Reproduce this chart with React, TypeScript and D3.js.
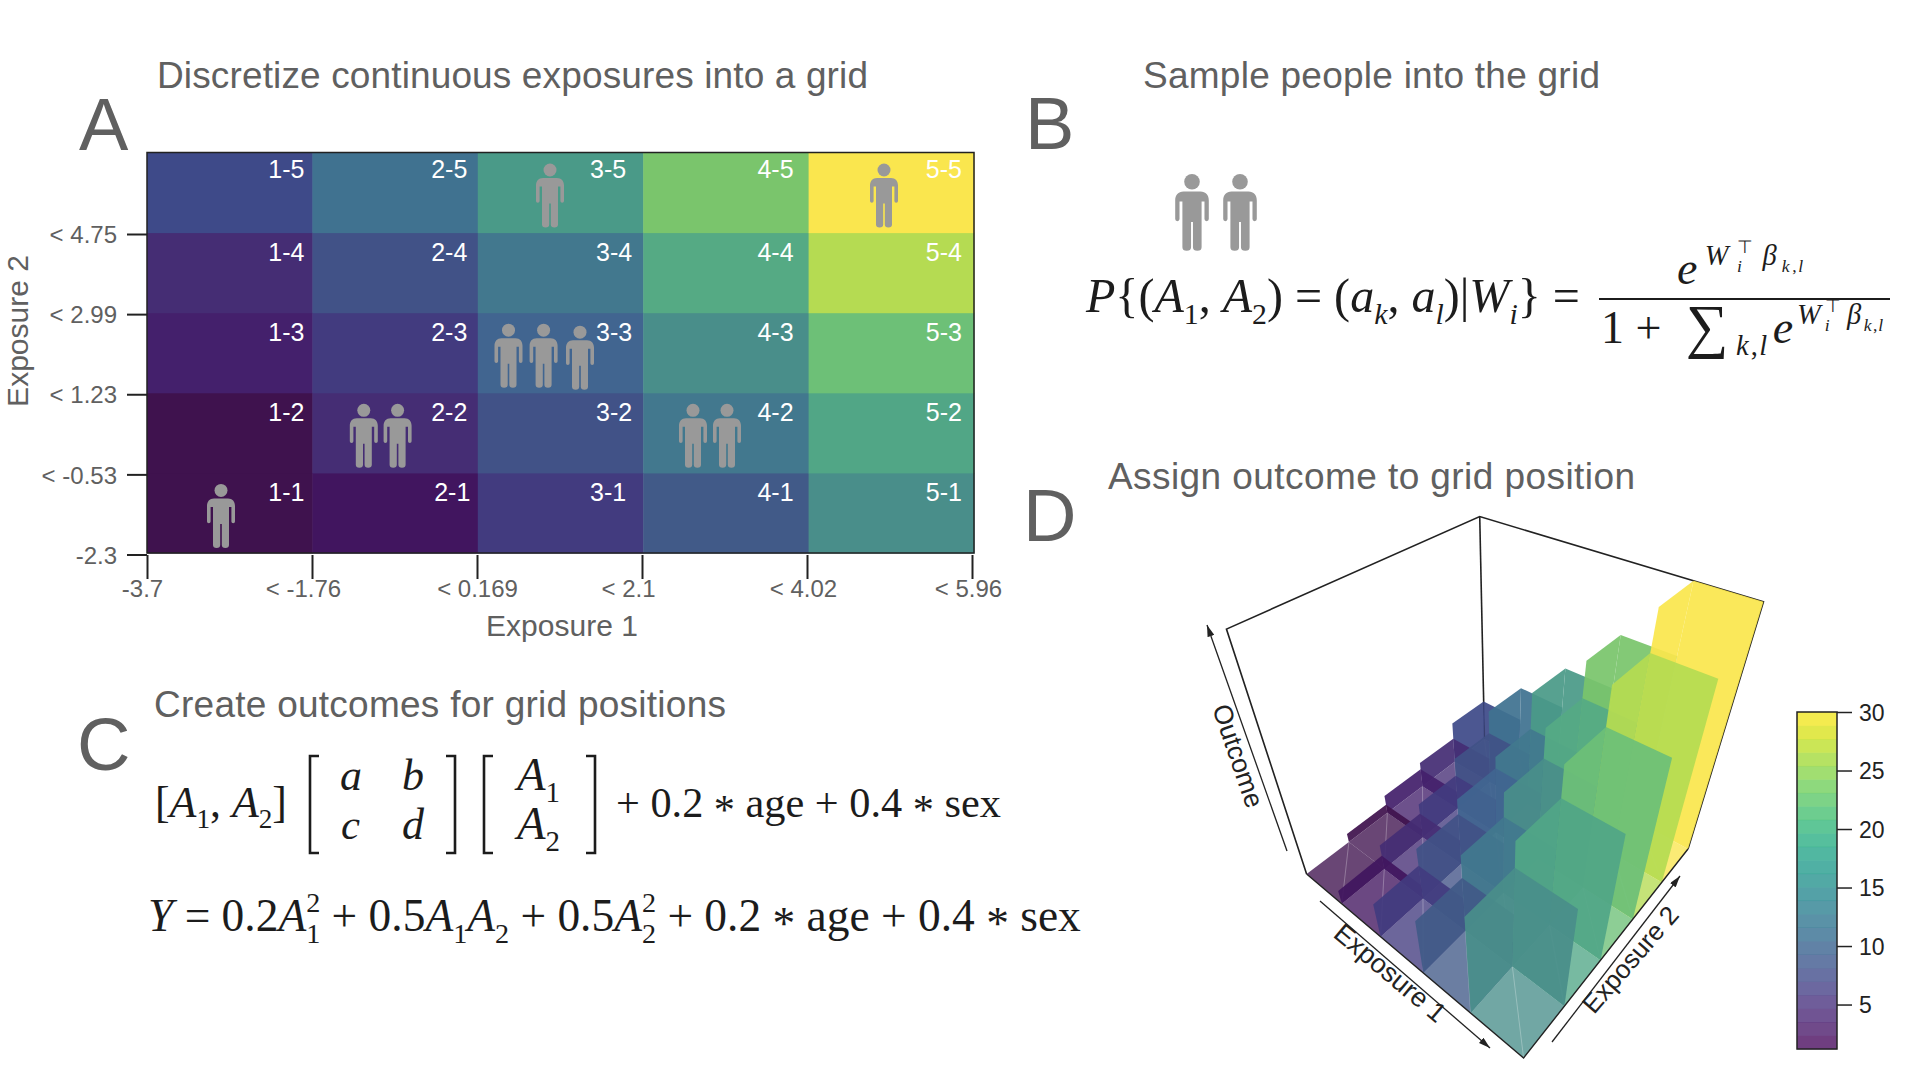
import React, { useEffect, useRef } from 'react'
import * as d3 from 'd3'

const exposure1 = ['1', '2', '3', '4', '5']
const exposure2 = ['1', '2', '3', '4', '5']
// outcome per grid cell, one list per exposure 1 bin, exposure 2 running 1..5
const outcome1 = [1.5, 2.8, 4.2, 5.2, 7.5]
const outcome2 = [3.6, 5.2, 6.6, 9, 12]
const outcome3 = [6.6, 9, 11, 12.5, 17]
const outcome4 = [9.5, 12.5, 15.5, 19, 23]
const outcome5 = [15.5, 18.5, 22, 26, 30]
const outcomes = [outcome1, outcome2, outcome3, outcome4, outcome5]

const xTickLabels = ['-3.7', '< -1.76', '< 0.169', '< 2.1', '< 4.02', '< 5.96']
const yTickLabels = ['-2.3', '< -0.53', '< 1.23', '< 2.99', '< 4.75']
const legendTicks = [5, 10, 15, 20, 25, 30]

// people standing in the grid: exposure 1 bin, exposure 2 bin
const people = [
  [1, 1], [3, 5], [5, 5], [3, 3], [3, 3], [3, 3], [2, 2], [2, 2], [4, 2], [4, 2]
]
const peopleX = [221, 550, 884, 508.5, 543.6, 580, 363.8, 397.6, 693, 727]

const heatStops = [1.5, 2.8, 3.6, 4.2, 5.2, 6.6, 7.5, 9, 9.5, 11, 12, 12.5, 15.5, 17, 18.5, 19, 22, 23, 26, 30]
const heatColors = ['#3f124e', '#3f124e', '#41155f', '#44206c', '#452d74', '#423b7f', '#3e4a89', '#415287', '#415a88',
  '#416590', '#407290', '#42788e', '#498e8a', '#4a9a88', '#51a686', '#55aa84', '#6dc077', '#7ac56c', '#b5db52', '#fae64e']

const PERSON = 'M7 14.5H21C25.5 14.5 28 17.5 28 22V37.5a1.8 1.8 0 0 1-3.6 0V23H22V61a3.6 3 0 0 1-7.2 0V40H13.2V61a3.6 3 0 0 1-7.2 0V23H3.6V37.5a1.8 1.8 0 0 1-3.6 0V22C0 17.5 2.5 14.5 7 14.5Z'
const SANS = '"Liberation Sans", Arial, sans-serif'
const SERIF = '"Liberation Serif", "Times New Roman", serif'
const GREY = '#606060'

// formula tokens
type Tok = { t: string; it?: boolean; sup?: Tok[]; sub?: Tok[]; gap?: number; drop?: number; scale?: number }
const r = (t: string, gap = 0): Tok => ({ t, gap })
const i = (t: string, gap = 0): Tok => ({ t, it: true, gap })
const A = (n: string): Tok => ({ t: 'A', it: true, sub: [r(n)] })
const AA = (n: string): Tok => ({ t: 'A', it: true, sup: [r('2')], sub: [r(n)] })
const star: Tok = { t: '*', drop: 0.17 }

const expo: Tok[] = [
  { t: 'W', it: true, sup: [r('⊤')], sub: [i('i')], gap: 0.1 },
  { t: 'β', it: true, sub: [i('k'), r(','), i('l')] }
]
const probTokens: Tok[] = [
  i('P'), r('{('), A('1'), r(', ', 0), A('2'), r(') = ('),
  { t: 'a', it: true, sub: [i('k')] }, r(', '), { t: 'a', it: true, sub: [i('l')] },
  r(')|'), { t: 'W', it: true, sub: [i('i')] }, r('} =')
]
const numTokens: Tok[] = [{ t: 'e', it: true, sup: expo }]
const denTokens: Tok[] = [
  r('1 + '), { t: '∑', scale: 1.3, drop: 0.06 },
  { t: '', sub: [i('k'), r(','), i('l')], gap: 0.08 },
  { t: 'e', it: true, sup: expo }
]
const rowTokens: Tok[] = [r('['), A('1'), r(', '), A('2'), r(']')]
const tailTokens: Tok[] = [r('+ 0.2 '), star, r(' age + 0.4 '), star, r(' sex')]
const yTokens: Tok[] = [
  i('Y'), r(' = 0.2'), AA('1'), r(' + 0.5'), A('1'), A('2'), r(' + 0.5'), AA('2'),
  r(' + 0.2 '), star, r(' age + 0.4 '), star, r(' sex')
]

const ctx = document.createElement('canvas').getContext('2d')!

function placeTokens(toks: Tok[], x: number, y: number, size: number, out: any[]) {
  toks.forEach(tok => {
    const own = size * (tok.scale || 1)
    ctx.font = `${tok.it ? 'italic ' : ''}${own}px ${SERIF}`
    out.push({ t: tok.t, it: tok.it, x, y: y + (tok.drop || 0) * size, size: own })
    x += ctx.measureText(tok.t).width
    let end = x
    if (tok.sup) end = Math.max(end, placeTokens(tok.sup, x, y - size * 0.42, size * 0.62, out))
    if (tok.sub) end = Math.max(end, placeTokens(tok.sub, x, y + size * 0.26, size * 0.62, out))
    x = end + (tok.gap || 0) * size
  })
  return x
}

// floor corners of the 3D box and the vanishing point of its verticals
const L = [1306.6, 874]
const F = [1523.6, 1058]
const R = [1688, 849]
const dF = 0.775
const dR = 1.023
const dB = 1.248
const B = [(R[0] * dR - F[0] * dF + L[0]) / dB, (R[1] * dR - F[1] * dF + L[1]) / dB]
const VP = [1500, 1465]
const K = -0.293

function project(u: number, v: number, w: number) {
  const d = 1 + (dF - 1) * u + (dB - 1) * v
  const x = L[0] + u * (F[0] * dF - L[0]) + v * (B[0] * dB - L[0])
  const y = L[1] + u * (F[1] * dF - L[1]) + v * (B[1] * dB - L[1])
  return [(x + w * K * VP[0]) / (d + w * K), (y + w * K * VP[1]) / (d + w * K)] as [number, number]
}

export default function App() {
  const svgRef = useRef<SVGSVGElement>(null)

  useEffect(() => {
    if (!svgRef.current) return
    const svg = d3.select(svgRef.current)
    svg.selectAll('*').remove()

    const addText = (t: string, x: number, y: number, size: number, opts: any = {}) =>
      svg.append('text').text(t).attr('x', x).attr('y', y)
        .attr('font-family', opts.family || SANS).attr('font-size', size)
        .attr('fill', opts.fill || GREY).attr('text-anchor', opts.anchor || 'start')
        .attr('transform', opts.rotate !== undefined ? `rotate(${opts.rotate} ${x} ${y})` : null)
        .attr('textLength', opts.len || null)

    const drawPerson = (x: number, y: number, k: number) => {
      const g = svg.append('g').attr('transform', `translate(${x - 14 * k},${y}) scale(${k})`).attr('fill', '#999999')
      g.append('circle').attr('cx', 14).attr('cy', 6.5).attr('r', 6.5)
      g.append('path').attr('d', PERSON)
    }

    // panel letters and titles
    addText('A', 79, 150, 74)
    addText('B', 1025, 149, 74)
    addText('C', 77, 770, 74)
    addText('D', 1023, 541, 74)
    addText('Discretize continuous exposures into a grid', 157, 88, 37, { len: 711 })
    addText('Sample people into the grid', 1143, 88, 37, { len: 457 })
    addText('Create outcomes for grid positions', 154, 717, 37, { len: 572 })
    addText('Assign outcome to grid position', 1108, 489, 37, { len: 527 })

    // panel A heat map
    const x = d3.scaleBand().domain(exposure1).range([147, 974])
    const y = d3.scaleBand().domain(exposure2).range([553, 152.5])
    const heat = d3.scaleLinear<string>().domain(heatStops).range(heatColors)
    const cells = exposure1.flatMap((e1, a) => exposure2.map((e2, b) => ({ e1, e2, value: outcomes[a][b] })))

    svg.append('g').selectAll('rect').data(cells).join('rect')
      .attr('x', d => x(d.e1)!).attr('y', d => y(d.e2)!)
      .attr('width', x.bandwidth() + 0.5).attr('height', y.bandwidth() + 0.5)
      .attr('fill', d => heat(d.value))
    svg.append('rect').attr('x', 147).attr('y', 152.5).attr('width', 827).attr('height', 400.5)
      .attr('fill', 'none').attr('stroke', '#222').attr('stroke-width', 1.5)

    // the hand placed cell labels are not quite on a regular grid
    const labelShift = [0, -2.5, -3, -7, -4]
    const labelNudge: Record<string, number> = { '3-5': -6, '3-1': -6, '2-1': 3 }
    svg.append('g').selectAll('text').data(cells).join('text')
      .attr('x', d => x(d.e1)! + x.bandwidth() - 8 + labelShift[+d.e1 - 1] + (labelNudge[`${d.e1}-${d.e2}`] || 0))
      .attr('y', d => y(d.e2)! + (d.e2 === '5' ? 25 : 28))
      .attr('text-anchor', 'end').attr('font-family', SANS).attr('font-size', 25).attr('fill', '#fff')
      .text(d => `${d.e1}-${d.e2}`)

    const xAxisScale = d3.scalePoint().domain(xTickLabels).range([147, 972])
    const xAxis = svg.append('g').attr('transform', 'translate(0,555)')
      .call(d3.axisBottom(xAxisScale).tickSize(24).tickSizeOuter(0))
    const yAxisScale = d3.scalePoint().domain(yTickLabels).range([554.5, 234])
    const yAxis = svg.append('g').attr('transform', 'translate(147,0)')
      .call(d3.axisLeft(yAxisScale).tickSize(20).tickSizeOuter(0))
    const xShift = [-5, -9, 0, -14, -4, -4]
    xAxis.select('.domain').remove()
    yAxis.select('.domain').remove()
    xAxis.selectAll('.tick line').attr('stroke', '#222').attr('stroke-width', 2)
    yAxis.selectAll('.tick line').attr('stroke', '#222').attr('stroke-width', 2)
    xAxis.selectAll<SVGTextElement, string>('.tick text').attr('font-family', SANS).attr('font-size', 24)
      .attr('fill', GREY).attr('y', 25).attr('dy', '0.71em').attr('dx', (_, n) => xShift[n])
    yAxis.selectAll<SVGTextElement, string>('.tick text').attr('font-family', SANS).attr('font-size', 24)
      .attr('fill', GREY).attr('x', -30).attr('dy', '0.36em')

    addText('Exposure 1', 562, 636, 30, { anchor: 'middle' })
    addText('Exposure 2', 28, 331, 30, { anchor: 'middle', rotate: -90 })

    people.forEach(([e1, e2], n) => {
      const top = y(String(e2))! + 11 + (n === 5 ? 2 : 0)
      drawPerson(peopleX[n], top, 1)
    })

    // panel B
    drawPerson(1192, 174, 1.2)
    drawPerson(1240, 174, 1.2)

    // fit a formula to a width, or keep a given size and only spread it out
    const drawFormula = (toks: Tok[], left: number, right: number, base: number, fixed?: number) => {
      const probe: any[] = []
      const w = placeTokens(toks, 0, 0, 100, probe)
      const size = fixed || (100 * (right - left)) / w
      const out: any[] = []
      const end = placeTokens(toks, left, base, size, out)
      const spread = fixed ? (right - left) / (end - left) : 1
      svg.append('g').selectAll('text').data(out.filter(d => d.t !== '')).join('text')
        .attr('x', d => left + (d.x - left) * spread).attr('y', d => d.y).attr('font-size', d => d.size)
        .attr('font-family', SERIF).attr('font-style', d => (d.it ? 'italic' : 'normal'))
        .attr('fill', '#1c1c1c').style('white-space', 'pre').text(d => d.t)
    }
    drawFormula(probTokens, 1086, 1580, 312)
    drawFormula(numTokens, 1677, 1805, 284, 46)
    drawFormula(denTokens, 1601, 1884, 343, 46)
    svg.append('line').attr('x1', 1599).attr('x2', 1890).attr('y1', 299).attr('y2', 299)
      .attr('stroke', '#1c1c1c').attr('stroke-width', 2)

    // panel C
    const bracket = (x0: number, dir: number) =>
      svg.append('path').attr('d', `M${x0 + dir * 9} 756H${x0}V853H${x0 + dir * 9}`)
        .attr('fill', 'none').attr('stroke', '#1c1c1c').attr('stroke-width', 2.6)
    bracket(310, 1)
    bracket(455, -1)
    bracket(484, 1)
    bracket(595, -1)
    drawFormula(rowTokens, 155, 287, 817)
    drawFormula(tailTokens, 616, 1001, 817)
    drawFormula([i('a')], 340, 362, 790)
    drawFormula([i('b')], 402, 424, 790)
    drawFormula([i('c')], 341, 360, 839)
    drawFormula([i('d')], 402, 424, 839)
    drawFormula([A('1')], 517, 560, 790)
    drawFormula([A('2')], 517, 560, 839)
    drawFormula(yTokens, 148, 1081, 931)

    // panel D box behind the bars
    const corner = (u: number, v: number, w: number) => project(u, v, w)
    const line = d3.line()
    const box = svg.append('g').attr('fill', 'none').attr('stroke', '#222').attr('stroke-width', 1.6)
    box.append('path').attr('d', line([corner(0, 0, 0), corner(0, 0, 1), corner(0, 1, 1), corner(1, 1, 1), corner(1, 1, 0)]))
    box.append('path').attr('d', line([corner(0, 1, 1), corner(0, 1, 0)]))

    const color = d3.scaleSequential(d3.interpolateViridis).domain([1.2, 30])
    const zScale = d3.scaleLinear().domain([1.5, 30]).range([0, 1])
    const u = d3.scaleBand().domain(exposure1).range([0, 1])
    const v = d3.scaleBand().domain(exposure2).range([0, 1])

    const floor = svg.append('g')
    const walls = svg.append('g')
    cells.forEach(c => {
      const u0 = u(c.e1)!, u1 = u0 + u.bandwidth()
      const v0 = v(c.e2)!, v1 = v0 + v.bandwidth()
      floor.append('path')
        .attr('d', line([project(u0, v0, 0), project(u1, v0, 0), project(u1, v1, 0), project(u0, v1, 0)]) + 'Z')
        .attr('fill', heat(c.value)).attr('fill-opacity', 0.78)
      floor.append('path').attr('d', line([project(u0, v1, 0), project(u1, v0, 0)]))
        .attr('stroke', '#fff').attr('stroke-opacity', 0.35).attr('stroke-width', 0.8)
    })
    // back to front: low exposure 1 and high exposure 2 are furthest from the viewer
    exposure1.forEach((e1, a) => {
      exposure2.slice().reverse().forEach(e2 => {
        const val = outcomes[a][+e2 - 1]
        const h = zScale(val)
        const u0 = u(e1)!, u1 = u0 + u.bandwidth()
        const v0 = v(e2)!, v1 = v0 + v.bandwidth()
        const wall = (p: number[][]) =>
          walls.append('path').attr('d', line(p.map(q => project(q[0], q[1], q[2]))) + 'Z')
            .attr('fill', heat(val)).attr('fill-opacity', 0.93)
        wall([[u0, v0, 0], [u0, v1, 0], [u0, v1, h], [u0, v0, h]])
        wall([[u0, v1, 0], [u1, v1, 0], [u1, v1, h], [u0, v1, h]])
      })
    })
    svg.append('path').attr('d', line([project(0, 0, 0), project(1, 0, 0), project(1, 1, 0)]))
      .attr('fill', 'none').attr('stroke', '#222').attr('stroke-width', 1.4)

    // arrows and rotated axis names
    const defs = svg.append('defs')
    defs.append('marker').attr('id', 'arrow').attr('viewBox', '0 0 10 6').attr('refX', 10).attr('refY', 3)
      .attr('markerWidth', 12).attr('markerHeight', 7).attr('orient', 'auto').attr('markerUnits', 'userSpaceOnUse')
      .append('path').attr('d', 'M0 0L10 3L0 6Z').attr('fill', '#222')
    const arrow = (a: [number, number], b: [number, number]) =>
      svg.append('path').attr('d', line([a, b])).attr('stroke', '#222').attr('stroke-width', 1.3)
        .attr('fill', 'none').attr('marker-end', 'url(#arrow)')
    arrow([1287, 851], [1207, 625])
    arrow([1320, 901], [1490, 1048])
    arrow([1552, 1042], [1680, 876])
    addText('Outcome', 1212, 708, 26.5, { fill: '#222', rotate: 71 })
    addText('Exposure 1', 1332, 936, 27, { fill: '#222', rotate: 40 })
    addText('Exposure 2', 1594, 1015, 26, { fill: '#222', rotate: -49 })

    // colour bar
    const legendY = d3.scaleLinear().domain([1.2, 30]).range([1049, 712])
    const bandValues = d3.range(25).map(n => 1.2 + (n * 28.8) / 25)
    const bar = svg.append('g')
    bar.selectAll('rect').data(bandValues).join('rect')
      .attr('x', 1797).attr('width', 40)
      .attr('y', d => legendY(d + 28.8 / 25)).attr('height', d => legendY(d) - legendY(d + 28.8 / 25) + 0.3)
      .attr('fill', d => color(d + 0.576)).attr('fill-opacity', 0.78)
    bar.append('rect').attr('x', 1797).attr('y', 712).attr('width', 40).attr('height', 337)
      .attr('fill', 'none').attr('stroke', '#222').attr('stroke-width', 1.5)
    const legendAxis = svg.append('g').attr('transform', 'translate(1837,0)')
      .call(d3.axisRight(legendY).tickValues(legendTicks).tickSize(15).tickSizeOuter(0))
    legendAxis.select('.domain').remove()
    legendAxis.selectAll('.tick line').attr('stroke', '#222').attr('stroke-width', 1.5)
    legendAxis.selectAll('.tick text').attr('font-family', SANS).attr('font-size', 23)
      .attr('fill', '#222').attr('x', 22).attr('dy', '0.35em')
  }, [])

  return (
    <div style={{ position: 'absolute', left: 0, top: 0, width: 1920, height: 1080, background: '#fff' }}>
      <svg ref={svgRef} width={1920} height={1080} />
    </div>
  )
}
